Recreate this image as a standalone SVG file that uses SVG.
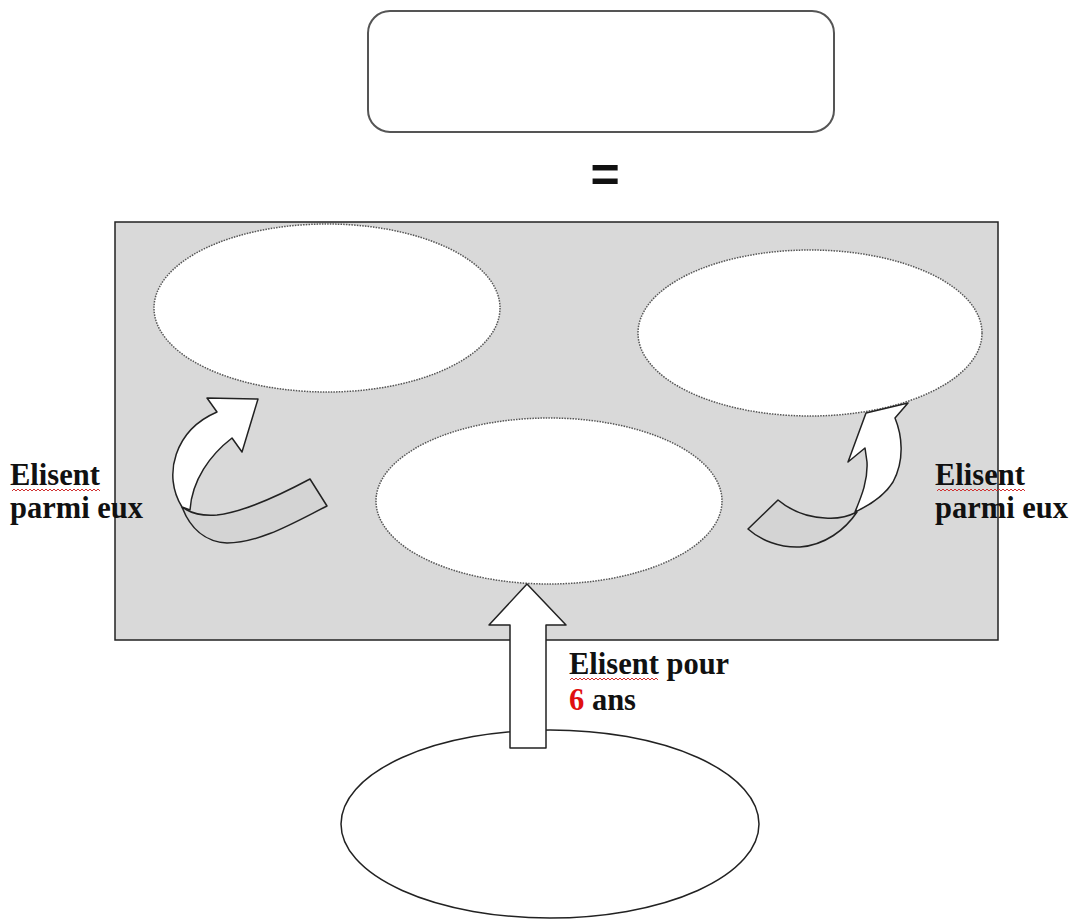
<svg xmlns="http://www.w3.org/2000/svg" width="1073" height="920" viewBox="0 0 1073 920">
<style>
.lbl{font-family:"Liberation Serif","Times New Roman",serif;font-weight:bold;font-size:30.5px;fill:#111}
.dot{fill:#fff;stroke:#555;stroke-width:1.5;stroke-dasharray:1.5 1.2}
.ln{stroke:#222;stroke-width:1.5;stroke-linejoin:round}
.wavy{fill:none;stroke:#d03030;stroke-width:1}
</style>
<rect width="1073" height="920" fill="#fff"/>
<g id="top-box"><rect x="368" y="11" width="466" height="121" rx="22" fill="#fff" stroke="#555" stroke-width="2"/></g>
<g id="equals"><text x="605" y="192" font-family="Liberation Sans, Arial, sans-serif" font-size="50" font-weight="bold" text-anchor="middle" fill="#111">=</text></g>
<g id="panel"><rect x="115" y="222" width="883" height="418" fill="#d9d9d9" stroke="#222" stroke-width="1.5"/></g>
<g id="ellipse-left"><ellipse cx="327" cy="308" rx="173" ry="84" class="dot"/></g>
<g id="ellipse-right"><ellipse cx="810" cy="333" rx="172" ry="83" class="dot"/></g>
<g id="ellipse-center"><ellipse cx="549" cy="501" rx="173" ry="83" class="dot"/></g>
<g id="ellipse-bottom"><ellipse cx="550" cy="824" rx="209" ry="94" fill="#fff" stroke="#222" stroke-width="1.5"/></g>
<g id="connectors">
  <path class="ln" fill="#fff" d="M510,748 L510,625 L489,625 L527,584 L566,625 L546,625 L546,748 Z"/>
  <path class="ln" fill="#d4d4d4" d="M182,507 C190,528 205,542 227,543 C260,543 295,522 327,506 L310,479 C280,495 245,512 217,515 C202,516 192,513 187,510 Z"/>
  <path class="ln" fill="#fff" d="M182,507 C162,475 175,430 217,412 L207,398 L258,399 L242,452 L232,438 C210,455 192,480 190,510 Z"/>
  <path class="ln" fill="#d4d4d4" d="M778,500 L748,529 C760,540 780,548 800,547 C825,545 845,530 857,512 C845,518 835,519 825,518 C805,517 790,510 778,500 Z"/>
  <path class="ln" fill="#fff" d="M855,512 C862,495 868,480 867,462 L865,448 L848,462 L866,413 L908,403 L895,418 C902,435 905,460 893,482 C885,495 870,505 855,512 Z"/>
</g>
<g id="label-left">
  <text class="lbl" x="10" y="485">Elisent</text>
  <text class="lbl" x="10" y="518">parmi eux</text>
  <path class="wavy" d="M12,491 l2,-2 l2,2 l2,-2 l2,2 l2,-2 l2,2 l2,-2 l2,2 l2,-2 l2,2 l2,-2 l2,2 l2,-2 l2,2 l2,-2 l2,2 l2,-2 l2,2 l2,-2 l2,2 l2,-2 l2,2 l2,-2 l2,2 l2,-2 l2,2 l2,-2 l2,2 l2,-2 l2,2 l2,-2 l2,2 l2,-2 l2,2 l2,-2 l2,2 l2,-2 l2,2 l2,-2 l2,2 l2,-2 l2,2 l2,-2 l2,2"/>
</g>
<g id="label-right">
  <text class="lbl" x="935" y="485">Elisent</text>
  <text class="lbl" x="935" y="518">parmi eux</text>
  <path class="wavy" d="M937,491 l2,-2 l2,2 l2,-2 l2,2 l2,-2 l2,2 l2,-2 l2,2 l2,-2 l2,2 l2,-2 l2,2 l2,-2 l2,2 l2,-2 l2,2 l2,-2 l2,2 l2,-2 l2,2 l2,-2 l2,2 l2,-2 l2,2 l2,-2 l2,2 l2,-2 l2,2 l2,-2 l2,2 l2,-2 l2,2 l2,-2 l2,2 l2,-2 l2,2 l2,-2 l2,2 l2,-2 l2,2 l2,-2 l2,2 l2,-2 l2,2"/>
</g>
<g id="label-bottom">
  <text class="lbl" x="569" y="674">Elisent pour</text>
  <text class="lbl" x="569" y="710"><tspan fill="#e01010">6</tspan> ans</text>
  <path class="wavy" d="M570,680 l2,-2 l2,2 l2,-2 l2,2 l2,-2 l2,2 l2,-2 l2,2 l2,-2 l2,2 l2,-2 l2,2 l2,-2 l2,2 l2,-2 l2,2 l2,-2 l2,2 l2,-2 l2,2 l2,-2 l2,2 l2,-2 l2,2 l2,-2 l2,2 l2,-2 l2,2 l2,-2 l2,2 l2,-2 l2,2 l2,-2 l2,2 l2,-2 l2,2 l2,-2 l2,2 l2,-2 l2,2 l2,-2 l2,2 l2,-2 l2,2"/>
</g>
</svg>
